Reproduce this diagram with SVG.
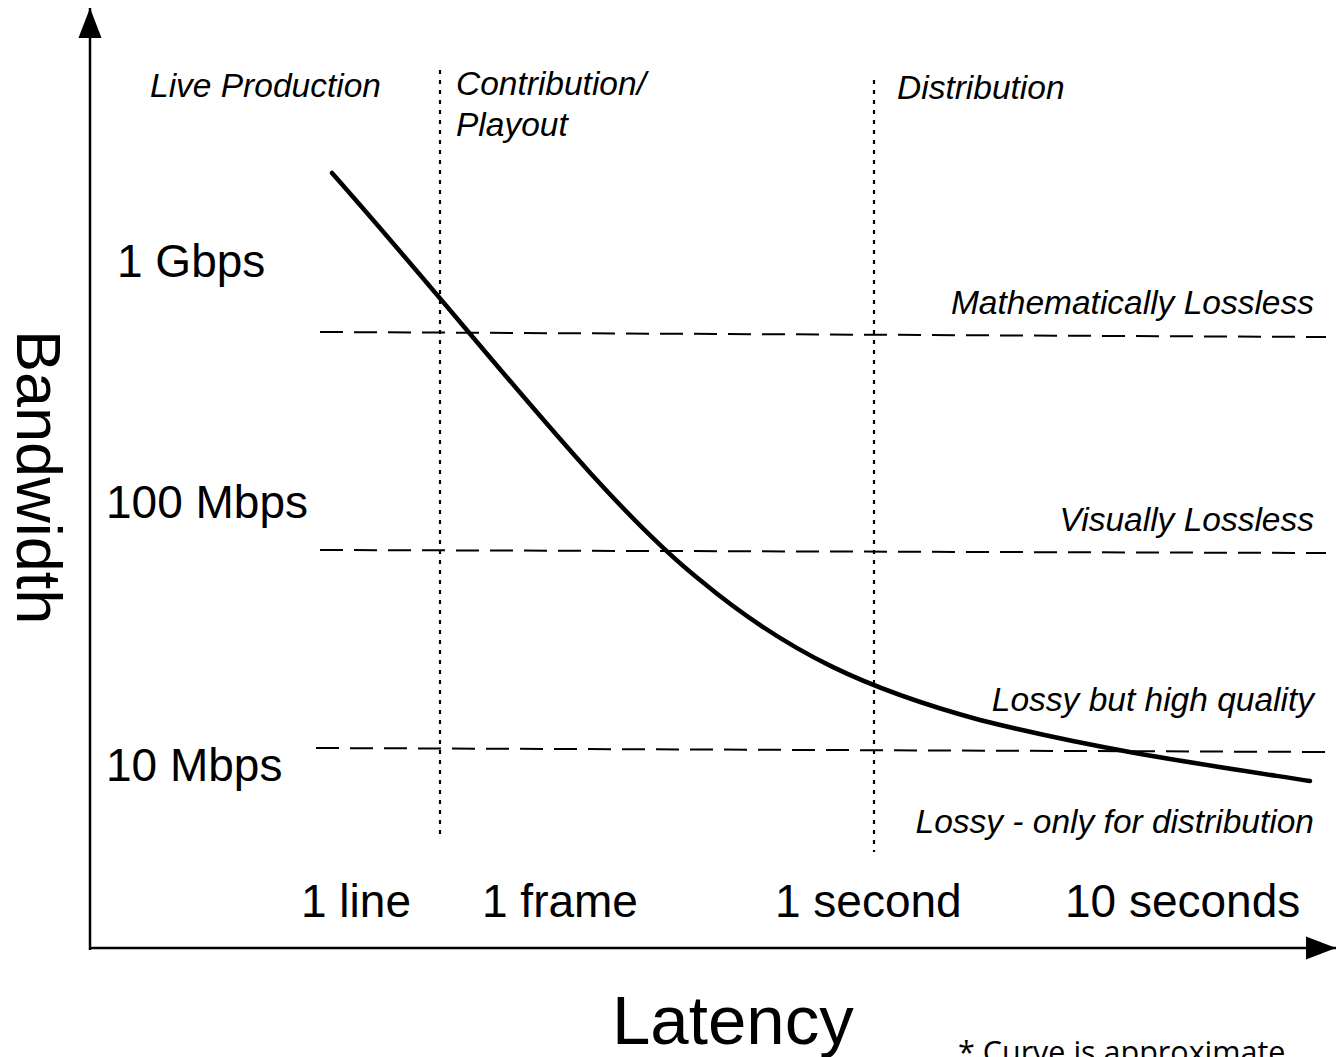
<svg xmlns="http://www.w3.org/2000/svg" width="1336" height="1057" viewBox="0 0 1336 1057">
<style>
  text { font-family: "Liberation Sans", Arial, sans-serif; fill: #000; }
  .tick { font-size: 46px; }
  .zone { font-size: 33.5px; font-style: italic; }
  .axis { stroke: #000; stroke-width: 2.5; fill: none; }
  .dash { stroke: #000; stroke-width: 2; stroke-dasharray: 23 11; fill: none; }
  .dot { stroke: #000; stroke-width: 2.2; stroke-dasharray: 4 6; fill: none; }
  .curve { stroke: #000; stroke-width: 4.5; fill: none; stroke-linecap: round; }
</style>
<defs>
  <marker id="arrow" markerUnits="userSpaceOnUse" markerWidth="30" markerHeight="24" refX="26" refY="10" orient="auto" viewBox="0 0 26 20">
    <path d="M0,0 L26,10 L0,20 Z" fill="#000"/>
  </marker>
</defs>
<rect width="1336" height="1057" fill="#fff"/>
<g id="connectors">
  <line class="axis" x1="90" y1="950" x2="90" y2="8" marker-end="url(#arrow)"/>
  <line class="axis" x1="90" y1="948" x2="1336" y2="948" marker-end="url(#arrow)"/>
  <line class="dot" x1="440" y1="70" x2="440" y2="836"/>
  <line class="dot" x1="874" y1="80" x2="874" y2="852"/>
  <line class="dash" x1="320" y1="332" x2="1326" y2="337"/>
  <line class="dash" x1="320" y1="550" x2="1326" y2="553"/>
  <line class="dash" x1="316" y1="748" x2="1326" y2="752"/>
  <path class="curve" d="M332,173 C480,340 600,500 700,580 C790,655 870,690 980,720 C1100,750 1200,764 1310,781"/>
</g>
<g id="y-labels">
  <text class="tick" x="117" y="277">1 Gbps</text>
  <text class="tick" x="106" y="518">100 Mbps</text>
  <text class="tick" x="106" y="781">10 Mbps</text>
</g>
<g id="x-labels">
  <text class="tick" x="301" y="917">1 line</text>
  <text class="tick" x="482" y="917">1 frame</text>
  <text class="tick" x="775" y="917">1 second</text>
  <text class="tick" x="1065" y="917">10 seconds</text>
</g>
<g id="zones">
  <text class="zone" x="150" y="97">Live Production</text>
  <text class="zone" x="456" y="95">Contribution/</text>
  <text class="zone" x="456" y="136">Playout</text>
  <text class="zone" x="897" y="99">Distribution</text>
</g>
<g id="quality">
  <text class="zone" x="1314" y="314" text-anchor="end">Mathematically Lossless</text>
  <text class="zone" x="1314" y="531" text-anchor="end">Visually Lossless</text>
  <text class="zone" x="1314" y="711" text-anchor="end">Lossy but high quality</text>
  <text class="zone" x="1314" y="833" text-anchor="end">Lossy - only for distribution</text>
</g>
<g id="axis-titles">
  <text x="612" y="1044" font-size="69">Latency</text>
  <text transform="translate(17,330) rotate(90)" font-size="63">Bandwidth</text>
</g>
<g id="footnote">
  <text x="958" y="1063" font-size="30.5" style="font-family:'Open Sans','Liberation Sans',sans-serif">* Curve is approximate</text>
</g>
</svg>
